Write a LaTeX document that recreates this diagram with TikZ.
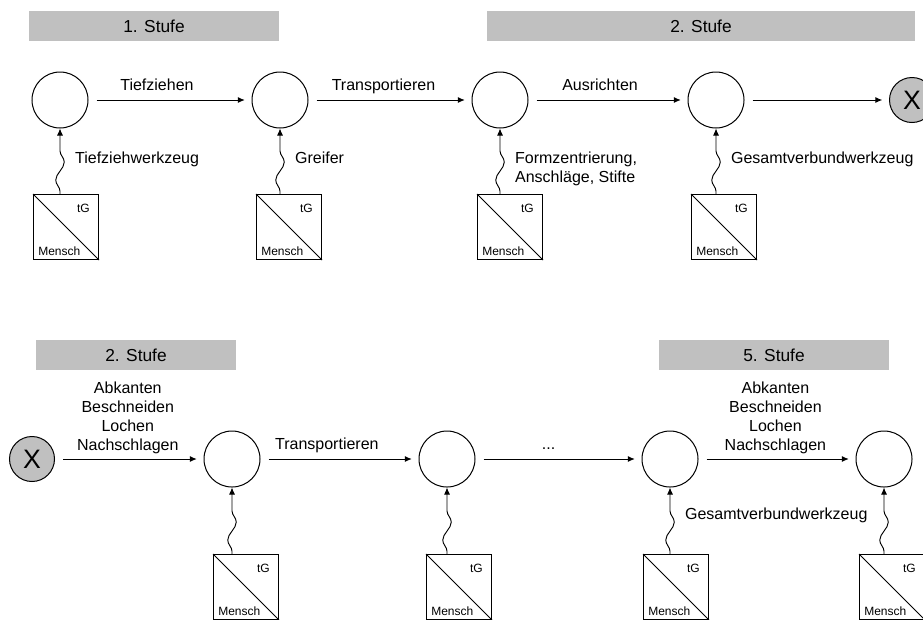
\documentclass[tikz,border=0pt]{standalone}
\usepackage{fontspec}
\setmainfont{Liberation Sans}
\usetikzlibrary{arrows.meta,decorations.pathmorphing}

\definecolor{stufegrau}{HTML}{C0C0C0}

\tikzset{
  zustand/.style={draw, circle, line width=0.75pt, minimum size=42pt, inner sep=0pt},
  ende/.style={zustand, fill=stufegrau, minimum size=33.75pt, font=\fontsize{20}{24}\selectfont},
  stufe/.style={fill=stufegrau, minimum height=22.5pt, inner sep=0pt, font=\fontsize{13}{15}\selectfont},
  mittel/.style={draw, line width=0.75pt, minimum size=48.75pt, inner sep=0pt, anchor=north west},
  klein/.style={font=\fontsize{9}{10}\selectfont, inner sep=0pt},
  fluss/.style={-{Latex[length=5.25pt,width=4.5pt]}, line width=0.75pt, shorten <=6pt, shorten >=5pt},
  werkzeug/.style={-{Latex[length=5.25pt,width=4.5pt]}, line width=0.7pt, decorate,
    decoration={snake, amplitude=3.2pt, segment length=27pt, pre length=2pt, post length=6pt}},
  vorgang/.style={anchor=base, yshift=7.5pt, inner sep=0pt},
  vorgaenge/.style={align=center, anchor=south, yshift=3.5pt, inner sep=0pt},
  hilfsmittel/.style={anchor=north west, xshift=11pt, inner sep=0pt, align=left},
}

\begin{document}
\begin{tikzpicture}[x=0.75pt, y=-0.75pt, font=\fontsize{12}{14.25}\selectfont]
  \useasboundingbox (0,0) rectangle (923,619);

  % Stufen
  \node[stufe, minimum width=187.5pt] (st1) at (154,26) {1. Stufe};
  \node[stufe, minimum width=321pt] (st2) at (701,26) {2. Stufe};
  \node[stufe, minimum width=150pt] (st3) at (136,355) {2. Stufe};
  \node[stufe, minimum width=172.5pt] (st4) at (774,355) {5. Stufe};

  % Zustaende
  \node[zustand] (t1) at (60,100) {};
  \node[zustand] (t2) at (280,100) {};
  \node[zustand] (t3) at (500,100) {};
  \node[zustand] (t4) at (716,100) {};
  \node[ende] (x1) at (912,100) {X};
  \node[ende] (x2) at (32,459) {X};
  \node[zustand] (b1) at (232,459) {};
  \node[zustand] (b2) at (447,459) {};
  \node[zustand] (b3) at (670,459) {};
  \node[zustand] (b4) at (884,459) {};

  % Mensch / technische Gebilde
  \foreach \m/\x/\y in {m1/33/194, m2/256/194, m3/477/194, m4/691/194,
                        m5/213/554, m6/426/554, m7/643/554, m8/859/554}
  {
    \node[mittel] (\m) at (\x,\y) {};
    \draw[line width=0.75pt] (\m.north west) -- (\m.south east);
    \node[klein, anchor=north east] (\m-tg) at ([shift={(-6.75pt,-7.5pt)}]\m.north east) {tG};
    \node[klein, anchor=base west] (\m-mensch) at ([shift={(3.75pt,3.75pt)}]\m.south west) {Mensch};
  }

  % Vorgaenge
  \draw[fluss] (t1) -- node[vorgang, pos=0.42] (v1) {Tiefziehen} (t2);
  \draw[fluss] (t2) -- node[vorgang, pos=0.46] (v2) {Transportieren} (t3);
  \draw[fluss] (t3) -- node[vorgang, pos=0.45] (v3) {Ausrichten} (t4);
  \draw[fluss] (t4) -- (x1);
  \draw[fluss] (x2) -- node[vorgaenge, pos=0.49] (v4) {Abkanten\\Beschneiden\\Lochen\\Nachschlagen} (b1);
  \draw[fluss] (b1) -- node[vorgang, pos=0.42] (v5) {Transportieren} (b2);
  \draw[fluss] (b2) -- node[vorgang, pos=0.44] (v6) {...} (b3);
  \draw[fluss] (b3) -- node[vorgaenge, pos=0.49] (v7) {Abkanten\\Beschneiden\\Lochen\\Nachschlagen} (b4);

  % Hilfsmittel
  \draw[werkzeug] (t1 |- m1.north) -- node[hilfsmittel, pos=0.65] (h1) {Tiefziehwerkzeug} (t1.south);
  \draw[werkzeug] (t2 |- m2.north) -- node[hilfsmittel, pos=0.65] (h2) {Greifer} (t2.south);
  \draw[werkzeug] (t3 |- m3.north) -- node[hilfsmittel, pos=0.65] (h3) {Formzentrierung,\\Anschläge, Stifte} (t3.south);
  \draw[werkzeug] (t4 |- m4.north) -- node[hilfsmittel, pos=0.65] (h4) {Gesamtverbundwerkzeug} (t4.south);
  \draw[werkzeug] (b1 |- m5.north) -- (b1.south);
  \draw[werkzeug] (b2 |- m6.north) -- (b2.south);
  \draw[werkzeug] (b3 |- m7.north) -- node[hilfsmittel, pos=0.7] (h5) {Gesamtverbundwerkzeug} (b3.south);
  \draw[werkzeug] (b4 |- m8.north) -- (b4.south);
\end{tikzpicture}
\end{document}
